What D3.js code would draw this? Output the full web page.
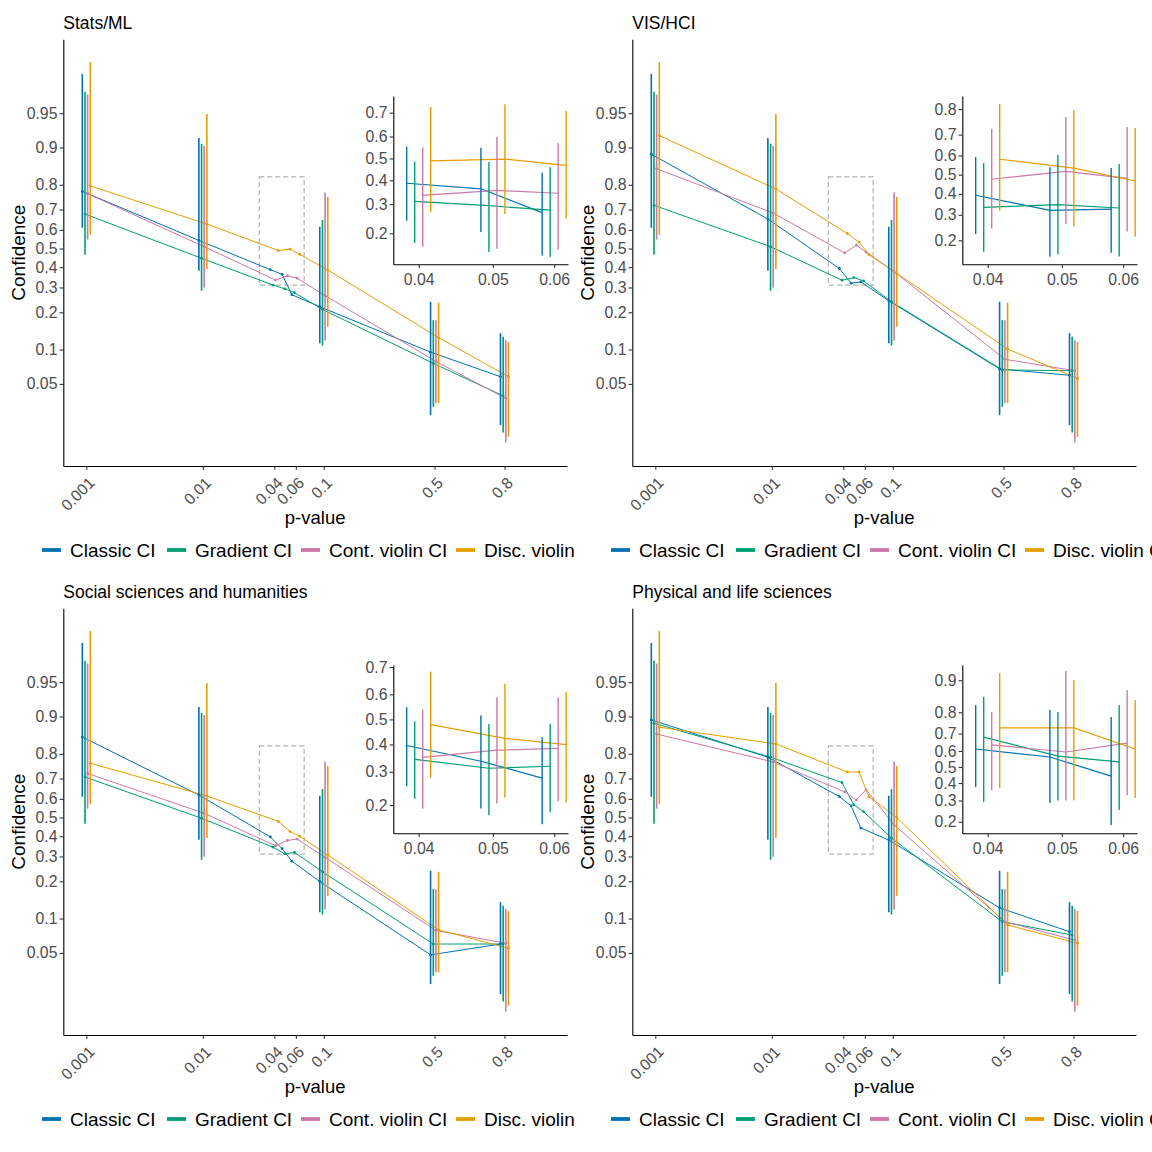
<!DOCTYPE html>
<html><head><meta charset="utf-8">
<script src="https://cdn.jsdelivr.net/npm/d3@7"></script>
<style>body{margin:0;background:#fff} text{font-family:"Liberation Sans",Arial,sans-serif}</style>
</head><body><svg id="c" width="1152" height="1152"></svg>
<script>
// ---------- data ----------
const panelTitles = ["Stats/ML", "VIS/HCI", "Social sciences and humanities", "Physical and life sciences"];
const conditions = ["Classic CI", "Gradient CI", "Cont. violin CI", "Disc. violin CI"];
const colors = ["#0072B2", "#009E73", "#CC79A7", "#E69F00"];
const pMain = [0.001, 0.01, 0.04, 0.05, 0.06, 0.1, 0.5, 0.8];
const pCI = [0.001, 0.01, 0.1, 0.5, 0.8];
const pInset = [0.04, 0.05, 0.06];
const yTicksMain = [0.05, 0.1, 0.2, 0.3, 0.4, 0.5, 0.6, 0.7, 0.8, 0.9, 0.95];
const xTicksMain = [0.001, 0.01, 0.04, 0.06, 0.1, 0.5, 0.8];
const xTicksInset = [0.04, 0.05, 0.06];
const yTicksInset = [
  [0.2, 0.3, 0.4, 0.5, 0.6, 0.7],
  [0.2, 0.3, 0.4, 0.5, 0.6, 0.7, 0.8],
  [0.2, 0.3, 0.4, 0.5, 0.6, 0.7],
  [0.2, 0.3, 0.4, 0.5, 0.6, 0.7, 0.8, 0.9]
];
const zoomBoxP = [0.03, 0.07];
const zoomBoxConf = [0.311, 0.826];

// intervals at pCI (shared by all panels), per condition
const ciLowMain = [
  [0.611, 0.382, 0.113, 0.026, 0.021],
  [0.466, 0.285, 0.108, 0.031, 0.018],
  [0.548, 0.299, 0.119, 0.0334, 0.0145],
  [0.574, 0.390, 0.154, 0.0334, 0.0164]
];
const ciHighMain = [
  [0.978, 0.917, 0.616, 0.239, 0.137],
  [0.968, 0.907, 0.650, 0.174, 0.128],
  [0.966, 0.903, 0.772, 0.174, 0.120],
  [0.983, 0.949, 0.754, 0.235, 0.116]
];

// mean confidence at pMain, per condition
const meansStatsML = [
  [0.776, 0.544, 0.387, 0.363, 0.268, 0.220, 0.095, 0.058],
  [0.679, 0.447, 0.311, 0.294, 0.277, 0.210, 0.076, 0.039],
  [0.767, 0.510, 0.335, 0.356, 0.344, 0.264, 0.079, 0.037],
  [0.796, 0.630, 0.489, 0.497, 0.468, 0.385, 0.126, 0.058]
];
const meansVisHci = [
  [0.886, 0.655, 0.393, 0.320, 0.326, 0.243, 0.068, 0.0597],
  [0.719, 0.510, 0.334, 0.347, 0.331, 0.239, 0.0666, 0.0655],
  [0.850, 0.684, 0.476, 0.518, 0.481, 0.377, 0.0825, 0.0655],
  [0.921, 0.785, 0.581, 0.535, 0.467, 0.368, 0.101, 0.056]
];
const meansSocial = [
  [0.852, 0.620, 0.396, 0.337, 0.279, 0.199, 0.048, 0.060],
  [0.707, 0.496, 0.344, 0.312, 0.319, 0.235, 0.060, 0.060],
  [0.723, 0.523, 0.351, 0.378, 0.385, 0.296, 0.079, 0.061],
  [0.765, 0.615, 0.479, 0.424, 0.399, 0.307, 0.080, 0.055]
];
const meansPhysical = [
  [0.893, 0.788, 0.612, 0.563, 0.443, 0.380, 0.123, 0.077],
  [0.886, 0.788, 0.681, 0.569, 0.532, 0.390, 0.094, 0.072],
  [0.860, 0.770, 0.636, 0.594, 0.647, 0.460, 0.094, 0.065],
  [0.877, 0.832, 0.729, 0.729, 0.612, 0.500, 0.088, 0.061]
];

// inset intervals at pInset, per condition
const insetLowStatsML = [[0.240, 0.204, 0.142], [0.173, 0.150, 0.139], [0.163, 0.158, 0.156], [0.270, 0.263, 0.247]];
const insetHighStatsML = [[0.554, 0.549, 0.434], [0.485, 0.483, 0.459], [0.551, 0.598, 0.571], [0.722, 0.732, 0.706]];
const insetLowVisHci = [[0.222, 0.150, 0.161], [0.164, 0.157, 0.151], [0.242, 0.262, 0.231], [0.318, 0.250, 0.212]];
const insetHighVisHci = [[0.592, 0.539, 0.535], [0.561, 0.603, 0.556], [0.724, 0.772, 0.733], [0.817, 0.797, 0.729]];
const insetLowSocial = [[0.253, 0.191, 0.155], [0.217, 0.175, 0.182], [0.191, 0.204, 0.210], [0.280, 0.220, 0.207]];
const insetHighSocial = [[0.549, 0.516, 0.428], [0.492, 0.481, 0.481], [0.540, 0.589, 0.589], [0.684, 0.640, 0.610]];
const insetLowPhysical = [[0.376, 0.287, 0.187], [0.292, 0.300, 0.252], [0.358, 0.300, 0.330], [0.370, 0.300, 0.313]];
const insetHighPhysical = [[0.828, 0.809, 0.780], [0.855, 0.801, 0.828], [0.801, 0.919, 0.875], [0.915, 0.900, 0.845]];

const panelMeans = [meansStatsML, meansVisHci, meansSocial, meansPhysical];
const panelInsetLow = [insetLowStatsML, insetLowVisHci, insetLowSocial, insetLowPhysical];
const panelInsetHigh = [insetHighStatsML, insetHighVisHci, insetHighSocial, insetHighPhysical];

// ---------- layout ----------
const logit = p => Math.log(p / (1 - p));
const svg = d3.select("#c");
const offsets = [[0, 0], [569, 0], [0, 569], [569, 569]];
const M = {l: 63.3, r: 567, t: 39.3, b: 466};
const I = {l: 393.3, r: 568, t: 96, b: 264.3};
const xMain = d3.scaleLinear().domain([-7.363, 2.626]).range([M.l, M.r]);
const yMain = d3.scaleLinear().domain([-4.73, 4.55]).range([M.b, M.t]);
const xIn = d3.scaleLinear().domain([-3.258, -2.708]).range([I.l, I.r]);
const insetDomains = [[-1.961, 1.156], [-1.894, 1.664], [-1.843, 0.88], [-1.678, 2.582]];
const dodgeMain = [-4, -1.3, 1.3, 4];
const dodgeIn = [-12, -4, 4, 12];
const legendStarts = [42, 167, 301, 456];
const fmt = v => String(v);

const defs = svg.append("defs");

function styleAxis(g) {
  g.select(".domain").attr("stroke", "#000").attr("stroke-width", 1.1);
  g.selectAll(".tick line").attr("stroke", "#333").attr("stroke-width", 1.1);
  g.selectAll(".tick text").attr("fill", "#4D4D4D").style("font-size", "15.8px")
    .style("font-family", '"Liberation Sans",Arial,sans-serif');
}

panelTitles.forEach((title, k) => {
  const [ox, oy] = offsets[k];
  const cw = ox === 0 ? 576 : 1152 - ox;
  defs.append("clipPath").attr("id", "clip" + k)
    .append("rect").attr("x", 0).attr("y", 0).attr("width", cw).attr("height", 583);
  const g = svg.append("g").attr("transform", `translate(${ox},${oy})`).attr("clip-path", `url(#clip${k})`);
  const means = panelMeans[k];

  // title
  g.append("text").attr("x", M.l).attr("y", 28.5).style("font-size", "17.5px").attr("fill", "#000").text(title);

  // axes
  const ya = g.append("g").attr("transform", `translate(${M.l},0)`)
    .call(d3.axisLeft(yMain).tickValues(yTicksMain.map(logit)).tickFormat((d, i) => fmt(yTicksMain[i]))
      .tickSize(3.67).tickPadding(2.2).tickSizeOuter(0));
  styleAxis(ya);
  const xa = g.append("g").attr("transform", `translate(0,${M.b})`)
    .call(d3.axisBottom(xMain).tickValues(xTicksMain.map(logit)).tickFormat((d, i) => fmt(xTicksMain[i]))
      .tickSize(3.67).tickSizeOuter(0));
  styleAxis(xa);
  xa.selectAll(".tick text").attr("y", null).attr("dy", "0.35em").attr("text-anchor", "end")
    .attr("transform", "translate(5,14) rotate(-45)");

  g.append("text").attr("transform", `translate(25,${(M.t + M.b) / 2}) rotate(-90)`)
    .attr("text-anchor", "middle").style("font-size", "19px").attr("fill", "#000").text("Confidence");
  g.append("text").attr("x", (M.l + M.r) / 2).attr("y", 524).attr("text-anchor", "middle")
    .style("font-size", "18.5px").attr("fill", "#000").text("p-value");

  // zoom box
  g.append("rect")
    .attr("x", xMain(logit(zoomBoxP[0]))).attr("width", xMain(logit(zoomBoxP[1])) - xMain(logit(zoomBoxP[0])))
    .attr("y", yMain(logit(zoomBoxConf[1]))).attr("height", yMain(logit(zoomBoxConf[0])) - yMain(logit(zoomBoxConf[1])))
    .attr("fill", "none").attr("stroke", "#b3b3b3").attr("stroke-width", 1.2).attr("stroke-dasharray", "5,3");

  // lines + points
  conditions.forEach((c, ci) => {
    const pts = pMain.map((p, i) => [xMain(logit(p)) + dodgeMain[ci], yMain(logit(means[ci][i]))]);
    g.append("path").attr("d", d3.line()(pts)).attr("fill", "none").attr("stroke", colors[ci]).attr("stroke-width", 1);
    g.append("g").selectAll("circle").data(pts).join("circle")
      .attr("cx", d => d[0]).attr("cy", d => d[1]).attr("r", 1.4).attr("fill", colors[ci]);
  });
  // error bars
  conditions.forEach((c, ci) => {
    g.append("g").selectAll("line").data(pCI).join("line")
      .attr("x1", p => xMain(logit(p)) + dodgeMain[ci]).attr("x2", p => xMain(logit(p)) + dodgeMain[ci])
      .attr("y1", (p, i) => yMain(logit(ciLowMain[ci][i]))).attr("y2", (p, i) => yMain(logit(ciHighMain[ci][i])))
      .attr("stroke", colors[ci]).attr("stroke-width", 1.6);
  });

  // inset
  const yIn = d3.scaleLinear().domain(insetDomains[k]).range([I.b, I.t]);
  g.append("rect").attr("x", I.l).attr("y", I.t).attr("width", I.r - I.l).attr("height", I.b - I.t).attr("fill", "#fff");
  const iya = g.append("g").attr("transform", `translate(${I.l},0)`)
    .call(d3.axisLeft(yIn).tickValues(yTicksInset[k].map(logit)).tickFormat((d, i) => fmt(yTicksInset[k][i]))
      .tickSize(3.67).tickPadding(2.2).tickSizeOuter(0));
  styleAxis(iya);
  const ixa = g.append("g").attr("transform", `translate(0,${I.b})`)
    .call(d3.axisBottom(xIn).tickValues(xTicksInset.map(logit)).tickFormat((d, i) => fmt(xTicksInset[i]))
      .tickSize(3.67).tickPadding(6).tickSizeOuter(0));
  styleAxis(ixa);
  conditions.forEach((c, ci) => {
    const pts = pInset.map((p, i) => [xIn(logit(p)) + dodgeIn[ci], yIn(logit(means[ci][i + 2]))]);
    g.append("path").attr("d", d3.line()(pts)).attr("fill", "none").attr("stroke", colors[ci]).attr("stroke-width", 1.2);
  });
  conditions.forEach((c, ci) => {
    g.append("g").selectAll("line").data(pInset).join("line")
      .attr("x1", p => xIn(logit(p)) + dodgeIn[ci]).attr("x2", p => xIn(logit(p)) + dodgeIn[ci])
      .attr("y1", (p, i) => yIn(logit(panelInsetLow[k][ci][i]))).attr("y2", (p, i) => yIn(logit(panelInsetHigh[k][ci][i])))
      .attr("stroke", colors[ci]).attr("stroke-width", 1.4);
  });

  // legend
  conditions.forEach((c, ci) => {
    const lx = legendStarts[ci];
    g.append("line").attr("x1", lx).attr("x2", lx + 19).attr("y1", 550).attr("y2", 550)
      .attr("stroke", colors[ci]).attr("stroke-width", 3.8);
    g.append("text").attr("x", lx + 28).attr("y", 557).style("font-size", "19px").attr("fill", "#000").text(c);
  });
});
</script></body></html>
